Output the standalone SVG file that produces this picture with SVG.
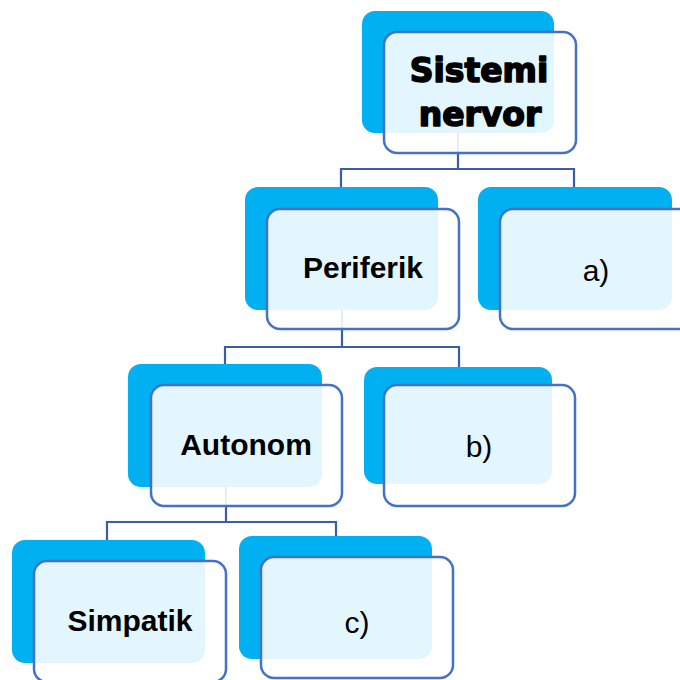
<svg xmlns="http://www.w3.org/2000/svg" width="680" height="680" viewBox="0 0 680 680">
<style>
.back{fill:#00B0F0}
.front{fill:#FFFFFF;fill-opacity:0.89;stroke:#4472C4;stroke-width:2.5}
.conn{fill:none;stroke:#3B5DA8;stroke-width:2.2}
.lb{font-family:"Liberation Sans",Arial,sans-serif;font-weight:bold;font-size:30px;fill:#000;text-anchor:middle}
.ln{font-family:"Liberation Sans",Arial,sans-serif;font-size:30px;fill:#000;text-anchor:middle}
.big{font-family:"DejaVu Sans",sans-serif;font-weight:bold;font-size:33px;fill:#000;stroke:#000;stroke-width:1.6;stroke-linejoin:round;text-anchor:middle}
</style>
<rect width="680" height="680" fill="#FFFFFF"/>
<g id="connectors">
<path class="conn" d="M458,133 V169 M341,187 V169 H574 V187"/>
<path class="conn" d="M342,310 V347 M225,364 V347 H459 V367"/>
<path class="conn" d="M226,487 V522 M107,540 V522 H336 V536"/>
</g>
<g id="n-sistemi">
<rect class="back" x="362" y="11" width="192" height="122" rx="13"/>
<rect class="front" x="384" y="32" width="192" height="121" rx="13"/>
<text class="big" x="479" y="82">Sistemi</text>
<text class="big" x="480" y="126">nervor</text>
</g>
<g id="n-periferik">
<rect class="back" x="245" y="187" width="193" height="123" rx="13"/>
<rect class="front" x="267" y="209" width="192" height="120" rx="13"/>
<text class="lb" x="363" y="278">Periferik</text>
</g>
<g id="n-a">
<rect class="back" x="478" y="187" width="194" height="123" rx="13"/>
<rect class="front" x="500" y="209" width="192" height="120" rx="13"/>
<text class="ln" x="596" y="281">a)</text>
</g>
<g id="n-autonom">
<rect class="back" x="128" y="364" width="194" height="123" rx="13"/>
<rect class="front" x="151" y="385" width="191" height="121" rx="13"/>
<text class="lb" x="246" y="455">Autonom</text>
</g>
<g id="n-b">
<rect class="back" x="364" y="367" width="188" height="117" rx="13"/>
<rect class="front" x="384" y="385" width="191" height="121" rx="13"/>
<text class="ln" x="479" y="457">b)</text>
</g>
<g id="n-simpatik">
<rect class="back" x="12" y="540" width="193" height="123" rx="13"/>
<rect class="front" x="34" y="561" width="192" height="121" rx="13"/>
<text class="lb" x="130" y="631">Simpatik</text>
</g>
<g id="n-c">
<rect class="back" x="239" y="536" width="193" height="123" rx="13"/>
<rect class="front" x="261" y="557" width="192" height="121" rx="13"/>
<text class="ln" x="357" y="633">c)</text>
</g>
</svg>
